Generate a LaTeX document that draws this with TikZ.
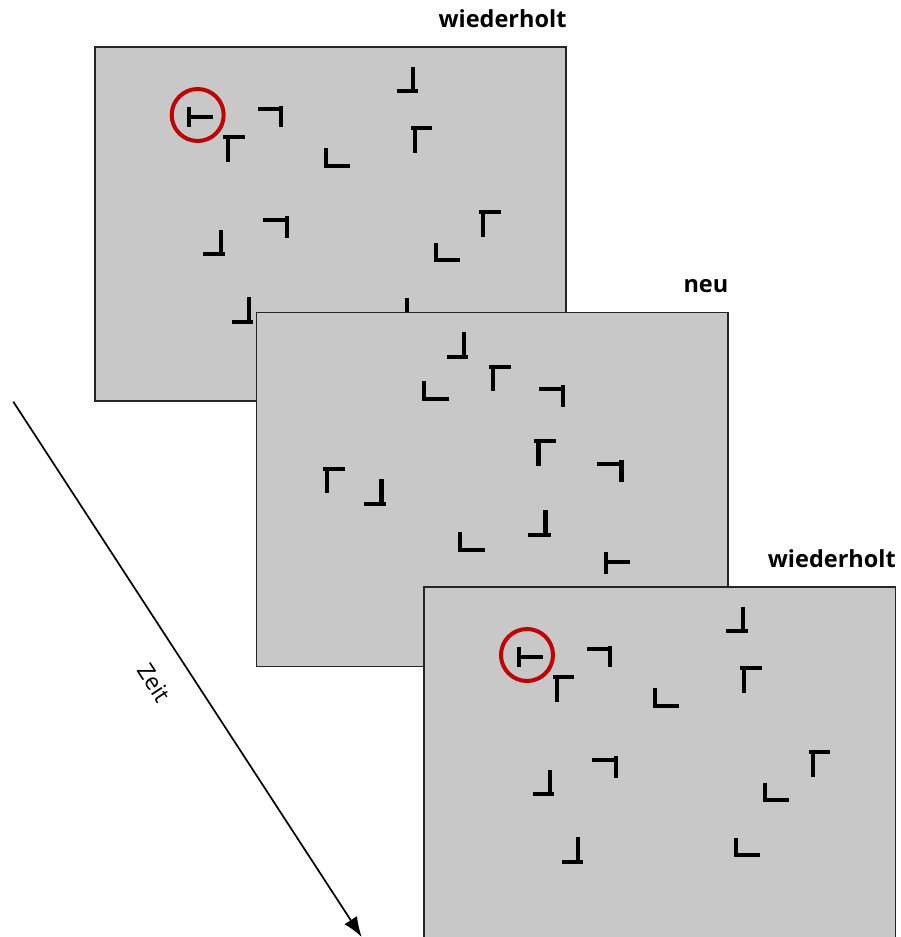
\documentclass[tikz,border=0pt]{standalone}
\usepackage{fontspec}
\setmainfont{Open Sans}
\usetikzlibrary{arrows.meta,calc}

\definecolor{panelgray}{HTML}{C8C8C8}
\definecolor{paneledge}{HTML}{262626}
\definecolor{targetred}{HTML}{C00000}

% Letter-like search items: each is one horizontal and one vertical bar,
% given in the local frame of its panel (top-left corner = origin, y down).
\newcommand\itemh[3]{\draw[bar] (#1,#3) -- (#2,#3);}
\newcommand\itemv[3]{\draw[bar] (#1,#2) -- (#1,#3);}

% Display that is shown twice (with the T target at top left)
\newcommand\repeatedset{%
  \itemv{94.6}{60}{80.6}     \itemh{94.6}{118.6}{70}      % T, sideways
  \itemh{163}{188}{62.6}     \itemv{186.3}{59}{80}
  \itemh{128.6}{150.3}{90.6} \itemv{133}{88.6}{115}
  \itemv{318.6}{20}{46.3}    \itemh{302}{323.6}{44.3}
  \itemh{316.3}{337.6}{81.6} \itemv{320.3}{79.6}{106}
  \itemv{231.3}{101.6}{121.3}\itemh{229.6}{255.3}{119.3}
  \itemh{168}{194.3}{173.3}  \itemv{192}{169}{191}
  \itemv{126.3}{183.3}{209.3}\itemh{108.6}{130.3}{207.3}
  \itemh{384.6}{406}{165}    \itemv{388.6}{163}{190}
  \itemv{341}{196}{215.3}    \itemh{339.3}{365.3}{213.3}
  \itemv{154.3}{250.6}{277}  \itemh{137.6}{158.6}{275}
  \itemv{312}{251}{270.3}    \itemh{311}{336}{268.3}
}

% Display with a new arrangement
\newcommand\novelset{%
  \itemv{207.6}{19.4}{46.4}  \itemh{190}{211.6}{44.4}
  \itemh{232.3}{254}{54.4}   \itemv{236.6}{52.4}{78.7}
  \itemv{167.3}{68.7}{88.7}  \itemh{165.6}{192}{86.7}
  \itemh{282.6}{308.6}{77}   \itemv{306.6}{73}{95}
  \itemh{277.6}{299.3}{129}  \itemv{282}{127}{153.7}
  \itemh{340.6}{367.3}{151.7}\itemv{365}{147.7}{170}
  \itemh{66}{88.3}{156.3}    \itemv{70.6}{154.3}{181}
  \itemv{125}{167}{193.7}    \itemh{107}{129.3}{191.7}
  \itemv{289}{197.7}{225}    \itemh{271.3}{294}{223}
  \itemv{203.6}{220}{239.7}  \itemh{201.6}{228.3}{237.7}
  \itemv{349.3}{239.3}{261.7}\itemh{349.3}{373.6}{250}  % T, sideways
}

\tikzset{
  panel/.style={draw=paneledge, line width=1.6pt, fill=panelgray,
    rectangle, minimum width=471.5pt, minimum height=354pt,
    inner sep=0pt, outer sep=0pt, anchor=north west},
  bar/.style={line width=4.2pt, line cap=butt, black},
  ring/.style={draw=targetred, line width=4pt, circle,
    minimum size=52pt, inner sep=0pt},
  caption/.style={font=\fontsize{23.5}{26}\selectfont\bfseries,
    anchor=base east, inner sep=0pt},
  timelabel/.style={font=\fontsize{23}{26}\selectfont, inner sep=0pt},
  timeline/.style={line width=1.7pt, -{Latex[length=20pt,width=15pt]}}
}

\begin{document}
\begin{tikzpicture}[x=1pt,y=-1pt]
  \clip (0,0) rectangle (901,937);
  \fill[white] (0,0) rectangle (901,937);

  % first display (repeated)
  \node[panel] (p1) at (94.7,46.7) {};
  \begin{scope}[shift={(p1.north west)}]
    \repeatedset
    \node[ring] (t1) at (103,68.3) {};
  \end{scope}
  \node[caption] (c1) at ($(p1.north east)+(0.5,-19.5)$) {wiederholt};

  % second display (new)
  \node[panel] (p2) at (256.5,312.3) {};
  \begin{scope}[shift={(p2.north west)}]
    \novelset
  \end{scope}
  \node[caption] (c2) at ($(p2.north east)+(0.5,-19.5)$) {neu};

  % third display (repeated again)
  \node[panel] (p3) at (424,586.7) {};
  \begin{scope}[shift={(p3.north west)}]
    \repeatedset
    \node[ring] (t3) at (103,68.3) {};
  \end{scope}
  \node[caption] (c3) at ($(p3.north east)+(0.5,-19.5)$) {wiederholt};

  % time axis
  \coordinate (ts) at (13.3,401.7);
  \coordinate (te) at (361.7,937);
  \draw[timeline] (ts) -- (te);
  \node[timelabel, rotate=-56.9] (zeit) at (154,683) {Zeit};
\end{tikzpicture}
\end{document}
